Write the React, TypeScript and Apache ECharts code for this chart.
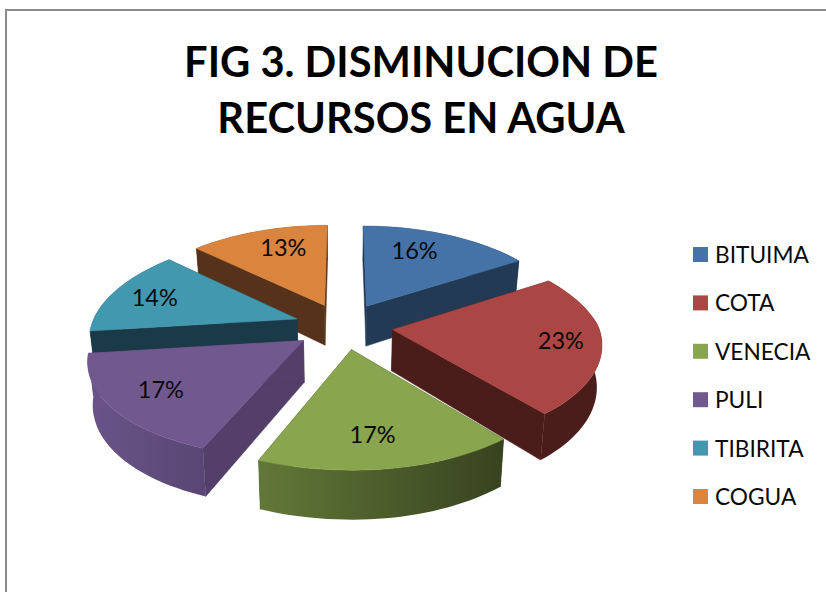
import React, { useEffect, useRef } from "react";
import * as echarts from "echarts";

const categories = ["BITUIMA", "COTA", "VENECIA", "PULI", "TIBIRITA", "COGUA"];
const values = [16, 23, 17, 17, 14, 13];
const titleText = "FIG 3. DISMINUCION DE\nRECURSOS EN AGUA";

const topColors = ["#4573a7", "#aa4644", "#89a54e", "#71588f", "#4298af", "#db843d"];
const sideColors = ["#233a55", "#4a1c1a", "#37431f", "#533f69", "#1b3a47", "#57321a"];
const rimFrom = ["#233a55", "#4a1c1a", "#627838", "#6a5488", "#1b3a47", "#57321a"];
const rimTo = ["#233a55", "#4a1c1a", "#37431f", "#594674", "#1b3a47", "#57321a"];
// back-to-front painting order (indices into categories)
const drawOrder = [5, 0, 4, 1, 3, 2];
// horizontal label nudges in px
const labelNudge = [-14.5, 12, -7.5, -3, -4.5, 10];

// 3D projection parameters
const CX = 343.5;
const CY = 326;
const A = 208;
const B = 96.5;
const PERSP = 0.139;
const PERSP_X = 0.17;
const EXPLODE = 0.24;
const DEPTH = 41;
const BOTTOM_X = 0.98;
const LABEL_R = 0.75;
const FONT = "Lato, 'Open Sans', sans-serif";

const total = values.reduce((s, v) => s + v, 0);
const rad = (d: number) => (d * Math.PI) / 180;

function project(X: number, Y: number, bottom: boolean): number[] {
  const d = 1 + PERSP * Y;
  const sideAdj = X > 0 ? 0.99 * (Y < 0 ? 1 + 0.045 * Y : 1) : 0.99;
  const px = ((A * X) / (1 + PERSP_X * Y)) * sideAdj;
  const py = (B * Y) / d;
  return bottom ? [CX + px * BOTTOM_X, CY - py + DEPTH / d] : [CX + px, CY - py];
}

function renderSlice(params: any, api: any) {
  const i = params.seriesIndex;
  const idx = drawOrder[i];
  const value = api.value(0);
  const before = api.value(1);
  const a0 = (before / total) * 360;
  const a1 = ((before + value) / total) * 360;
  const mid = rad((a0 + a1) / 2);
  const ox = EXPLODE * Math.sin(mid);
  const oy = EXPLODE * Math.cos(mid);

  const apexT = project(ox, oy, false);
  const apexB = project(ox, oy, true);
  const topArc: number[][] = [];
  const botArc: number[][] = [];
  const steps = Math.ceil((a1 - a0) / 2);
  for (let s = 0; s <= steps; s++) {
    const a = rad(a0 + ((a1 - a0) * s) / steps);
    const X = ox + Math.sin(a);
    const Y = oy + Math.cos(a);
    topArc.push(project(X, Y, false));
    botArc.push(project(X, Y, true));
  }
  const side = sideColors[idx];
  const sideStyle = { fill: side, stroke: side, lineWidth: 0.5 };
  const lr = EXPLODE + LABEL_R;
  const lp = project(lr * Math.sin(mid), lr * Math.cos(mid), false);
  const rimFill = new echarts.graphic.LinearGradient(0, 0, 1, 0, [
    { offset: 0, color: rimFrom[idx] },
    { offset: 1, color: rimTo[idx] },
  ]);
  return {
    type: "group",
    children: [
      { type: "polygon", shape: { points: [apexT, topArc[0], botArc[0], apexB] }, style: sideStyle },
      { type: "polygon", shape: { points: [apexT, topArc[steps], botArc[steps], apexB] }, style: sideStyle },
      { type: "polygon", shape: { points: [...topArc, ...botArc.slice().reverse()] }, style: { fill: rimFill } },
      {
        type: "polygon",
        shape: { points: [apexT, ...topArc] },
        style: { fill: topColors[idx], stroke: topColors[idx], lineWidth: 0.5 },
      },
      {
        type: "text",
        style: {
          text: `${value}%`,
          x: lp[0] + labelNudge[idx],
          y: lp[1] - 1,
          align: "center",
          verticalAlign: "middle",
          fontFamily: FONT,
          fontSize: 23.5,
          fill: "#0a0a0a",
        },
      },
    ],
  };
}

export default function App() {
  const ref = useRef<HTMLDivElement>(null);
  useEffect(() => {
    const chart = echarts.init(ref.current!, null, { renderer: "svg" });
    const starts = values.map((_, i) => values.slice(0, i).reduce((s, v) => s + v, 0));
    chart.setOption({
      animation: false,
      backgroundColor: "#ffffff",
      title: {
        text: titleText,
        left: 416,
        top: 28,
        textAlign: "center",
        textStyle: { fontFamily: FONT, fontWeight: "bold", fontSize: 41.7, lineHeight: 56, color: "#000" },
      },
      legend: {
        orient: "vertical",
        left: 688,
        top: 238,
        padding: 5,
        data: categories,
        icon: "rect",
        itemWidth: 15,
        itemHeight: 15,
        itemGap: 25.4,
        selectedMode: false,
        textStyle: { fontFamily: FONT, fontSize: 22.7, color: "#0a0a0a", padding: [0, 0, 0, 2] },
      },
      graphic: [
        {
          type: "polyline",
          silent: true,
          shape: { points: [[6, 592], [6, 10], [826, 10]] },
          style: { fill: "none", stroke: "#8a8a8a", lineWidth: 2 },
        },
      ],
      series: drawOrder.map((idx) => ({
        type: "custom",
        name: categories[idx],
        coordinateSystem: "none",
        silent: true,
        itemStyle: { color: topColors[idx] },
        data: [[values[idx], starts[idx]]],
        renderItem: renderSlice,
      })),
    });
    return () => chart.dispose();
  }, []);
  return <div ref={ref} style={{ position: "absolute", left: 0, top: 0, width: 826, height: 592 }} />;
}
